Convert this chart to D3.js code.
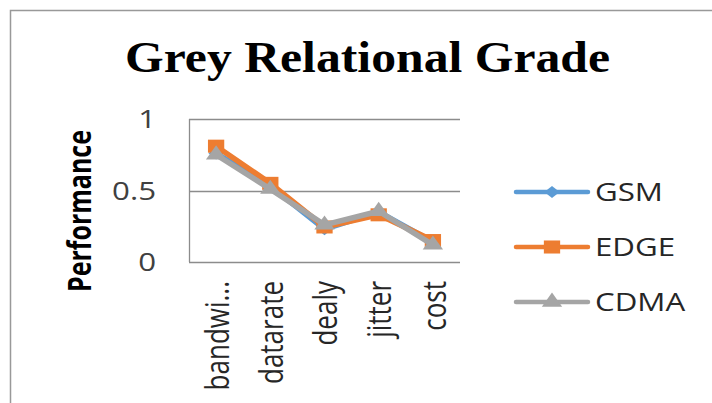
<!DOCTYPE html>
<meta charset="utf-8">
<head>
  <meta charset="utf-8">
  <script src="https://d3js.org/d3.v7.min.js"></script>
  <style>
    body { margin: 0; background: #fff; }
  </style>
</head>
<body>
  <svg width="712" height="403"></svg>
  <script>
    // data
    var categories = ["bandwi...", "datarate", "dealy", "jitter", "cost"];
    var gsm  = [0.76, 0.53, 0.23, 0.35, 0.14];
    var edge = [0.81, 0.55, 0.245, 0.33, 0.15];
    var cdma = [0.75, 0.51, 0.26, 0.355, 0.12];
    var seriesNames = ["GSM", "EDGE", "CDMA"];
    var yTicks = [0, 0.5, 1];

    // the picture is stretched sideways, so text and markers are too
    var SX = 1.25;
    var sans = "'Open Sans', 'Liberation Sans', Arial, sans-serif";

    var diamond = {
      draw: function(ctx, size) {
        var r = Math.sqrt(size) / 2;
        ctx.moveTo(0, -r); ctx.lineTo(r, 0); ctx.lineTo(0, r); ctx.lineTo(-r, 0); ctx.closePath();
      }
    };

    var series = [
      { name: seriesNames[0], values: gsm,  color: "#5b9bd5", sym: d3.symbol().type(diamond).size(150) },
      { name: seriesNames[1], values: edge, color: "#ed7d31", sym: d3.symbol().type(d3.symbolSquare).size(170) },
      { name: seriesNames[2], values: cdma, color: "#a5a5a5", sym: d3.symbol().type(d3.symbolTriangle).size(115) }
    ];

    var svg = d3.select("svg");

    // outer chart border (only top and left visible)
    svg.append("path")
      .attr("d", "M10.5,403 V10.5 H712")
      .attr("fill", "none")
      .attr("stroke", "#999")
      .attr("stroke-width", 1.5);

    // title
    svg.append("text")
      .attr("x", 367.5).attr("y", 72)
      .attr("text-anchor", "middle")
      .attr("font-family", "'Liberation Serif', 'Times New Roman', serif")
      .attr("font-weight", "bold")
      .attr("font-size", 44)
      .attr("textLength", 485)
      .attr("lengthAdjust", "spacingAndGlyphs")
      .text("Grey Relational Grade");

    var plot = { left: 189, right: 460, top: 119, bottom: 262 };

    var x = d3.scaleBand().domain(categories).range([plot.left, plot.right]);
    var y = d3.scaleLinear().domain([0, 1]).range([plot.bottom, plot.top]);
    var cx = function(c) { return x(c) + x.bandwidth() / 2; };

    // gridlines
    svg.append("g")
      .selectAll("line")
      .data(yTicks.filter(function(d) { return d > 0; }))
      .join("line")
      .attr("x1", plot.left).attr("x2", plot.right)
      .attr("y1", function(d) { return Math.round(y(d)) + 0.5; })
      .attr("y2", function(d) { return Math.round(y(d)) + 0.5; })
      .attr("stroke", "#8c8c8c")
      .attr("stroke-width", 1.3);

    // axis lines
    svg.append("line")
      .attr("x1", plot.left + 0.5).attr("x2", plot.left + 0.5)
      .attr("y1", plot.top).attr("y2", plot.bottom)
      .attr("stroke", "#8c8c8c").attr("stroke-width", 1.3);
    svg.append("line")
      .attr("x1", plot.left).attr("x2", plot.right)
      .attr("y1", plot.bottom + 0.5).attr("y2", plot.bottom + 0.5)
      .attr("stroke", "#8c8c8c").attr("stroke-width", 1.3);

    // y tick labels
    svg.append("g")
      .selectAll("text")
      .data(yTicks)
      .join("text")
      .attr("transform", function(d) { return "translate(156," + y(d) + ") scale(" + SX + ",1)"; })
      .attr("dy", "0.36em")
      .attr("text-anchor", "end")
      .attr("font-family", sans)
      .attr("font-size", 25)
      .attr("fill", "#404040")
      .text(function(d) { return d; });

    // x tick labels, rotated
    svg.append("g")
      .selectAll("text")
      .data(categories)
      .join("text")
      .attr("transform", function(d) {
        return "translate(" + (cx(d) + 1) + "," + (plot.bottom + 19) + ") scale(" + SX + ",1) rotate(-90)";
      })
      .attr("dy", "0.36em")
      .attr("text-anchor", "end")
      .attr("font-family", sans)
      .attr("font-size", 26)
      .attr("fill", "#262626")
      .text(function(d) { return d; });

    // y axis title
    svg.append("text")
      .attr("transform", "translate(80,211) scale(" + SX + ",1) rotate(-90)")
      .attr("dy", "0.36em")
      .attr("text-anchor", "middle")
      .attr("font-family", sans)
      .attr("font-weight", "bold")
      .attr("font-size", 25)
      .attr("fill", "#000")
      .text("Performance");

    var line = d3.line()
      .x(function(d, i) { return cx(categories[i]); })
      .y(function(d) { return y(d); });

    series.forEach(function(s) {
      var g = svg.append("g");
      g.append("path")
        .attr("d", line(s.values))
        .attr("fill", "none")
        .attr("stroke", s.color)
        .attr("stroke-width", 5.5)
        .attr("stroke-linejoin", "round");
      g.selectAll("path.mk")
        .data(s.values)
        .join("path")
        .attr("class", "mk")
        .attr("transform", function(d, i) {
          return "translate(" + cx(categories[i]) + "," + y(d) + ") scale(" + SX + ",1)";
        })
        .attr("d", s.sym())
        .attr("fill", s.color);
    });

    // legend
    var legendY = [192, 247, 302];
    var legend = svg.append("g");
    series.forEach(function(s, i) {
      var gy = legendY[i];
      legend.append("line")
        .attr("x1", 516).attr("x2", 588)
        .attr("y1", gy).attr("y2", gy)
        .attr("stroke", s.color)
        .attr("stroke-width", 4.5)
        .attr("stroke-linecap", "round");
      legend.append("path")
        .attr("transform", "translate(552," + gy + ") scale(" + SX + ",1)")
        .attr("d", s.sym())
        .attr("fill", s.color);
      legend.append("text")
        .attr("transform", "translate(595," + gy + ") scale(" + SX + ",1)")
        .attr("dy", "0.36em")
        .attr("font-family", sans)
        .attr("font-size", 25)
        .attr("fill", "#262626")
        .text(s.name);
    });
  </script>
</body>
